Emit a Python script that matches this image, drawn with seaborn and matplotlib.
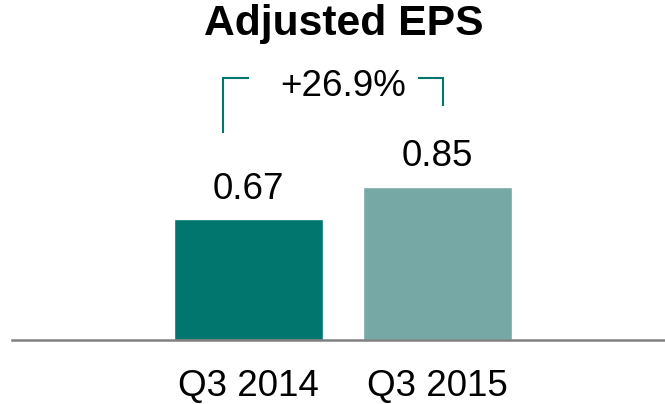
import seaborn as sns
import matplotlib.pyplot as plt

periods = ["Q3 2014", "Q3 2015"]
eps = [0.67, 0.85]
bar_colors = ["#00766F", "#76A9A5"]
growth_label = "+26.9%"
title = "Adjusted EPS"


def draw_chart():
    sns.set_style("white")
    plt.rcParams['font.family'] = ['Liberation Sans', 'DejaVu Sans']
    plt.rcParams['text.color'] = 'black'
    plt.rcParams['xtick.color'] = 'black'

    fig = plt.figure(figsize=(6.65, 4.04), dpi=100)
    ax = fig.add_axes([12 / 665, 1 - 340 / 404, 1 - 12 / 665, 340 / 404])

    sns.barplot(x=periods, y=eps, hue=periods, palette=bar_colors,
                width=0.79, legend=False, saturation=1, ax=ax)

    ax.set_xlim(-1.251, 2.204)
    ax.set_ylim(0, 1.883)

    for i, v in enumerate(eps):
        ax.annotate(f"{v:.2f}", (i, v), xytext=(0, 14.5), textcoords="offset points",
                    ha="center", va="baseline", fontsize=26.5, color="black")

    # growth bracket
    teal = bar_colors[0]
    ax.plot([-0.135, -0.135, 0.003], [1.146, 1.451, 1.451], color=teal, lw=1.5,
            solid_capstyle="butt", solid_joinstyle="miter")
    ax.plot([0.897, 1.029, 1.029], [1.451, 1.451, 1.296], color=teal, lw=1.5,
            solid_capstyle="butt", solid_joinstyle="miter")
    ax.text(0.5, 1.351, growth_label, ha="center", va="baseline", fontsize=26.5,
            color="black")

    fig.text(344 / 665, 1 - 35 / 404, title, ha="center", va="baseline",
             fontsize=30.7, fontweight="bold", color="black")

    for side in ["left", "right", "top"]:
        ax.spines[side].set_visible(False)
    ax.spines["bottom"].set_color("#808080")
    ax.spines["bottom"].set_linewidth(1.8)
    ax.set_yticks([])
    ax.tick_params(axis="x", length=0, pad=21, labelsize=26.5, labelcolor="black")
    ax.set_xlabel("")
    ax.set_ylabel("")

    fig.savefig("out.png", dpi=100)
    plt.close(fig)


if __name__ == "__main__":
    draw_chart()
